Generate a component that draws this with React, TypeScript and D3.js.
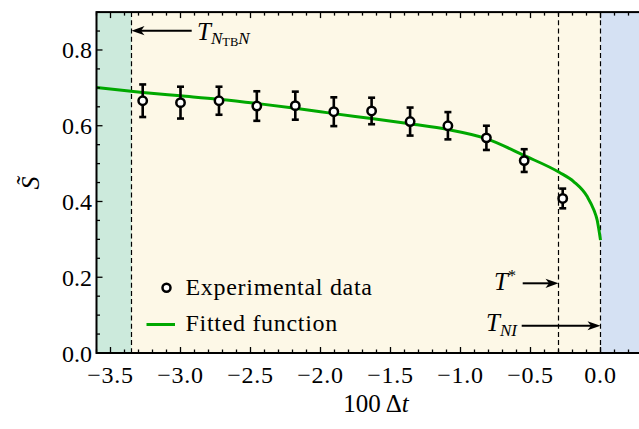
import { scaleLinear, line as d3line, curveMonotoneX, range } from "d3";

const SERIF = "Liberation Serif";

// S̃ against 100 Δt, with error bars
const tPoints = [-3.27, -3.0, -2.725, -2.455, -2.18, -1.905, -1.635, -1.36, -1.09, -0.815, -0.545, -0.27];
const sPoints = [0.666, 0.661, 0.666, 0.652, 0.653, 0.637, 0.639, 0.611, 0.600, 0.568, 0.508, 0.408];
const sErrors = [0.043, 0.042, 0.037, 0.039, 0.037, 0.038, 0.035, 0.037, 0.036, 0.032, 0.030, 0.026];

// fitted function, sampled from the figure
const curveT = [-3.6, -3.27, -3.0, -2.73, -2.46, -2.18, -2.0, -1.905, -1.636, -1.362, -1.09, -0.816, -0.543, -0.295, -0.19, -0.095, -0.048, -0.024, 0];
const curveS = [0.701, 0.688, 0.679, 0.670, 0.659, 0.646, 0.637, 0.632, 0.619, 0.605, 0.590, 0.566, 0.521, 0.477, 0.452, 0.413, 0.378, 0.351, 0.298];

const T_NTBN = -3.35;
const T_STAR = -0.3;
const T_NI = 0;

const xTicks = [-3.5, -3.0, -2.5, -2.0, -1.5, -1.0, -0.5, 0.0];
const yTicks = [0.0, 0.2, 0.4, 0.6, 0.8];

const xs = scaleLinear().domain([-3.6, 0.3]).range([96.5, 642.5]);
const ys = scaleLinear().domain([0, 0.9]).range([353, 12.1]);

const label = (v: number) => (v < 0 ? "\u2212" : "") + Math.abs(v).toFixed(1);

function head(tx: number, ty: number, dir: number) {
  const b = tx - dir * 13;
  const n = tx - dir * 9.5;
  return `M${tx},${ty}L${b},${ty - 4.6}L${n},${ty}L${b},${ty + 4.6}Z`;
}

function Txt(props: any) {
  const { style, ...rest } = props;
  return <text fill="#000" fontFamily={SERIF} style={{ fontFamily: SERIF, ...(style || {}) }} {...rest} />;
}

export default function App() {
  const [x0, x1] = xs.range();
  const [y0, y1] = ys.range();
  const fit = d3line<number>()
    .x((_, i) => xs(curveT[i]))
    .y((d) => ys(d))
    .curve(curveMonotoneX);

  const xMinor = range(-36, 4).map((v) => v / 10).filter((v) => !xTicks.some((m) => Math.abs(m - v) < 1e-6));
  const yMinor = range(0, 19).map((v) => v / 20).filter((v) => !yTicks.some((m) => Math.abs(m - v) < 1e-6));

  const a1 = ys(0.851);
  const a2 = ys(0.184);
  const a3 = ys(0.072);

  return (
    <div style={{ position: "fixed", left: 0, top: 0 }}>
      <svg width={639} height={429} style={{ display: "block", background: "#fff" }}>
        <defs>
          <clipPath id="area">
            <rect x={x0} y={y1} width={x1 - x0} height={y0 - y1} />
          </clipPath>
        </defs>
        <g clipPath="url(#area)">
          <rect x={x0} y={y1} width={x1 - x0} height={y0 - y1} fill="#fdf8e7" />
          <rect x={x0} y={y1} width={xs(T_NTBN) - x0} height={y0 - y1} fill="#cceadc" />
          <rect x={xs(T_NI)} y={y1} width={x1 - xs(T_NI)} height={y0 - y1} fill="#d5e1f3" />
          {[T_NTBN, T_STAR, T_NI].map((t) => (
            <line key={t} x1={xs(t)} x2={xs(t)} y1={y1} y2={y0} stroke="#000" strokeWidth={1.2} strokeDasharray="5,3.2" />
          ))}
          <path d={fit(curveS) || ""} fill="none" stroke="#00a800" strokeWidth={3} />
        </g>

        {tPoints.map((t, i) => {
          const cx = xs(t);
          const top = ys(sPoints[i] + sErrors[i]);
          const bot = ys(sPoints[i] - sErrors[i]);
          return (
            <g key={t} stroke="#000" strokeWidth={2.6}>
              <line x1={cx} x2={cx} y1={top} y2={bot} />
              <line x1={cx - 3.5} x2={cx + 3.5} y1={top} y2={top} />
              <line x1={cx - 3.5} x2={cx + 3.5} y1={bot} y2={bot} />
              <circle cx={cx} cy={ys(sPoints[i])} r={4.2} fill="#fff" strokeWidth={2.5} />
            </g>
          );
        })}

        <g stroke="#000" strokeWidth={2}>
          <line x1={191.7} x2={xs(T_NTBN) + 8} y1={a1} y2={a1} />
          <line x1={522.7} x2={xs(T_STAR) - 8} y1={a2} y2={a2} />
          <line x1={521.7} x2={xs(T_NI) - 8} y1={a3} y2={a3} />
        </g>
        <path d={head(xs(T_NTBN), a1, -1)} fill="#000" />
        <path d={head(xs(T_STAR), a2, 1)} fill="#000" />
        <path d={head(xs(T_NI), a3, 1)} fill="#000" />

        <Txt x={197} y={40} fontSize={25}>
          <tspan fontStyle="italic">T</tspan>
          <tspan fontStyle="italic" fontSize={17} dy={3.5}>N</tspan>
          <tspan fontSize={12.5} dy={2.5}>TB</tspan>
          <tspan fontStyle="italic" fontSize={17} dy={-2.5}>N</tspan>
        </Txt>
        <Txt x={516} y={290} fontSize={25} textAnchor="end">
          <tspan fontStyle="italic">T</tspan>
          <tspan fontSize={16} dy={-9}>*</tspan>
        </Txt>
        <Txt x={517} y={331} fontSize={25} textAnchor="end">
          <tspan fontStyle="italic">T</tspan>
          <tspan fontStyle="italic" fontSize={17} dy={5}>NI</tspan>
        </Txt>

        <circle cx={166.5} cy={287.7} r={4} fill="#fff" stroke="#000" strokeWidth={2.5} />
        <line x1={146.5} x2={175} y1={324.5} y2={324.5} stroke="#00a800" strokeWidth={3} />
        <Txt x={185.5} y={294.5} fontSize={24} letterSpacing={0.7}>Experimental data</Txt>
        <Txt x={185.5} y={331} fontSize={24} letterSpacing={0.7}>Fitted function</Txt>

        <g stroke="#000" strokeWidth={1.3}>
          {xTicks.map((v) => (
            <g key={"xM" + v}>
              <line x1={xs(v)} x2={xs(v)} y1={y0} y2={y0 - 6} />
              <line x1={xs(v)} x2={xs(v)} y1={y1} y2={y1 + 6} />
            </g>
          ))}
          {xMinor.map((v) => (
            <g key={"xm" + v}>
              <line x1={xs(v)} x2={xs(v)} y1={y0} y2={y0 - 3.5} />
              <line x1={xs(v)} x2={xs(v)} y1={y1} y2={y1 + 3.5} />
            </g>
          ))}
          {yTicks.map((v) => (
            <line key={"yM" + v} x1={x0} x2={x0 + 6} y1={ys(v)} y2={ys(v)} />
          ))}
          {yMinor.map((v) => (
            <line key={"ym" + v} x1={x0} x2={x0 + 3.5} y1={ys(v)} y2={ys(v)} />
          ))}
        </g>

        <rect x={x0} y={y1} width={x1 - x0} height={y0 - y1} fill="none" stroke="#000" strokeWidth={2} />

        {xTicks.map((v) => (
          <Txt key={"xl" + v} x={xs(v)} y={383} fontSize={24} letterSpacing={0.8} textAnchor="middle">
            {label(v)}
          </Txt>
        ))}
        {yTicks.map((v) => (
          <Txt key={"yl" + v} x={92} y={ys(v) + 8.5} fontSize={24} textAnchor="end">
            {label(v)}
          </Txt>
        ))}

        <Txt x={376} y={412} fontSize={25} textAnchor="middle">
          100 Δ<tspan fontStyle="italic">t</tspan>
        </Txt>
        <Txt transform="translate(38.5,183) rotate(-90)" fontSize={26} fontStyle="italic" textAnchor="middle">
          S̃
        </Txt>
      </svg>
    </div>
  );
}
